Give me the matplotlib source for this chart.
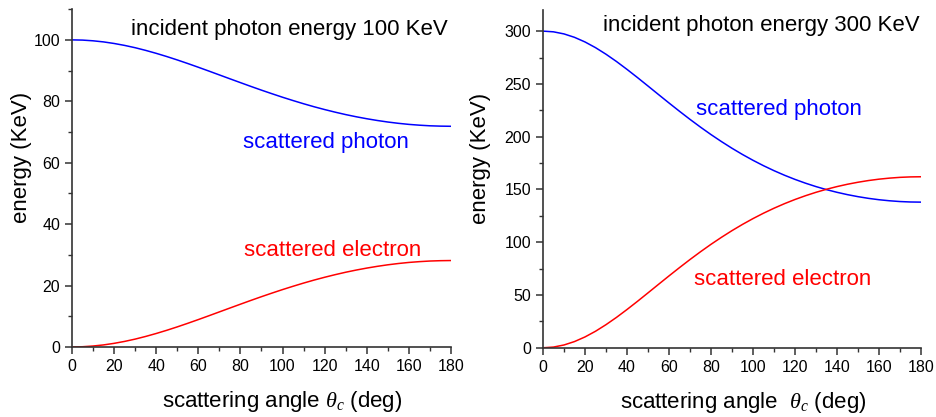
import matplotlib.pyplot as plt

plt.rcParams['font.family'] = ['Liberation Sans', 'DejaVu Sans']
plt.rcParams['mathtext.fontset'] = 'custom'
plt.rcParams['mathtext.it'] = 'Liberation Serif:italic'
plt.rcParams['mathtext.rm'] = 'Liberation Sans'

# scattering angle (deg)
angle = list(range(0, 185, 5))

# incident 100 KeV
photon_100 = [100.0, 99.93, 99.70, 99.34, 98.83, 98.20, 97.45, 96.58, 95.62, 94.58,
              93.47, 92.30, 91.09, 89.85, 88.59, 87.33, 86.08, 84.84, 83.63, 82.46,
              81.32, 80.24, 79.20, 78.22, 77.31, 76.46, 75.67, 74.96, 74.32, 73.75,
              73.25, 72.83, 72.48, 72.22, 72.02, 71.91, 71.86]
electron_100 = [0.0, 0.07, 0.30, 0.66, 1.17, 1.80, 2.55, 3.42, 4.38, 5.42,
                6.53, 7.70, 8.91, 10.15, 11.41, 12.67, 13.92, 15.16, 16.37, 17.54,
                18.68, 19.76, 20.80, 21.78, 22.69, 23.54, 24.33, 25.04, 25.68, 26.25,
                26.75, 27.17, 27.52, 27.78, 27.98, 28.09, 28.14]

# incident 300 KeV
photon_300 = [300.0, 299.33, 297.35, 294.12, 289.74, 284.36, 278.11, 271.21, 263.76, 255.99,
              247.99, 239.93, 231.92, 224.06, 216.40, 209.04, 201.99, 195.33, 189.02, 183.12,
              177.62, 172.51, 167.80, 163.47, 159.52, 155.94, 152.71, 149.83, 147.29, 145.07,
              143.17, 141.56, 140.26, 139.27, 138.54, 138.12, 137.98]
electron_300 = [0.0, 0.67, 2.65, 5.88, 10.26, 15.64, 21.89, 28.79, 36.24, 44.01,
                52.01, 60.07, 68.08, 75.94, 83.60, 90.96, 98.01, 104.67, 110.98, 116.88,
                122.38, 127.49, 132.20, 136.53, 140.48, 144.06, 147.29, 150.17, 152.71, 154.93,
                156.83, 158.44, 159.74, 160.73, 161.46, 161.88, 162.02]

fig = plt.figure(figsize=(9.37, 4.17), dpi=100)
ax1 = fig.add_axes([0.0768, 0.168, 0.4045, 0.81])
ax2 = fig.add_axes([0.5795, 0.166, 0.4034, 0.81])


def style(ax, ymax, major, minor, xlabel):
    ax.set_xlim(0, 180)
    ax.set_ylim(0, ymax)
    ax.set_xticks(range(0, 181, 20))
    ax.set_xticks(range(10, 181, 20), minor=True)
    ax.set_yticks(major)
    ax.set_yticks(minor, minor=True)
    ax.spines['top'].set_visible(False)
    ax.spines['right'].set_visible(False)
    for s in ('left', 'bottom'):
        ax.spines[s].set_linewidth(1.2)
        ax.spines[s].set_color('#333333')
    ax.tick_params(which='major', direction='out', length=5, width=1.1, labelsize=11.5,
                   color='#333333')
    ax.tick_params(which='minor', direction='out', length=3, width=1.0, color='#333333')
    ax.set_xlabel(xlabel, fontsize=16)
    ax.set_ylabel('energy (KeV)', fontsize=16)


ax1.plot(angle, photon_100, color='#0000ff', lw=1.1)
ax1.plot(angle, electron_100, color='#ff0000', lw=1.1)
style(ax1, 110, [0, 20, 40, 60, 80, 100], [10, 30, 50, 70, 90, 110],
      r'scattering angle $\theta_c$ (deg)')
ax1.xaxis.set_label_coords(0.554, -0.125)
ax1.yaxis.set_label_coords(-0.105, 0.562)
ax1.text(178.5, 103.5, 'incident photon energy 100 KeV', ha='right', va='center', fontsize=16)
ax1.text(81, 66.5, 'scattered photon', color='#0000ff', ha='left', va='center', fontsize=16)
ax1.text(81.5, 31.3, 'scattered electron', color='#ff0000', ha='left', va='center', fontsize=16)

ax2.plot(angle, photon_300, color='#0000ff', lw=1.1)
ax2.plot(angle, electron_300, color='#ff0000', lw=1.1)
style(ax2, 320, [0, 50, 100, 150, 200, 250, 300], [25, 75, 125, 175, 225, 275],
      r'scattering angle  $\theta_c$ (deg)')
ax2.xaxis.set_label_coords(0.529, -0.125)
ax2.yaxis.set_label_coords(-0.137, 0.562)
ax2.text(179.5, 305.5, 'incident photon energy 300 KeV', ha='right', va='center', fontsize=16)
ax2.text(73, 226, 'scattered photon', color='#0000ff', ha='left', va='center', fontsize=16)
ax2.text(72, 64.5, 'scattered electron', color='#ff0000', ha='left', va='center', fontsize=16)

fig.savefig('out.png', dpi=100)
